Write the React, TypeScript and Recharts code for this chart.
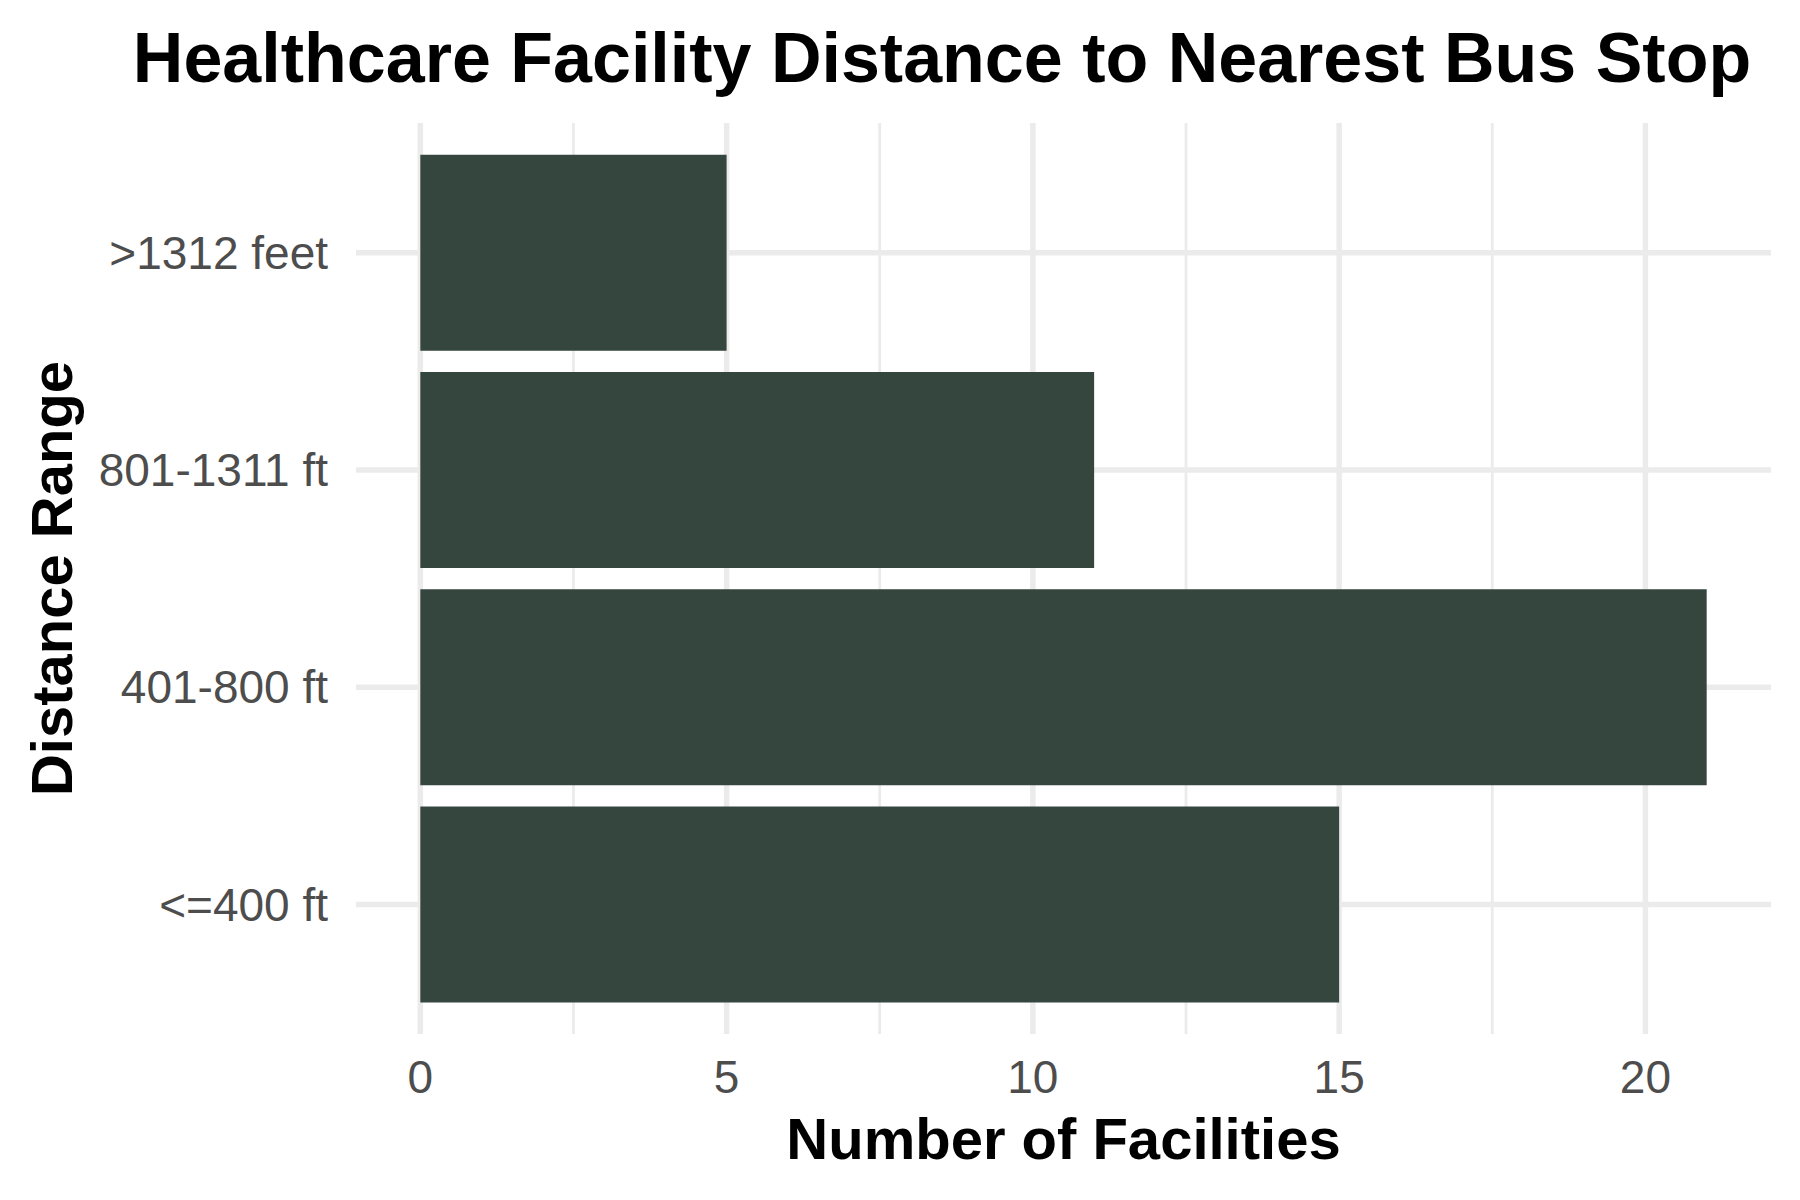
import { BarChart, Bar, XAxis, YAxis, CartesianGrid, Label } from 'recharts'

const ranges = ['>1312 feet', '801-1311 ft', '401-800 ft', '<=400 ft']
const facilityCounts = [5, 11, 21, 15]
const majorTicks = [0, 5, 10, 15, 20]
const minorTicks = [2.5, 7.5, 12.5, 17.5]

const data = ranges.map((range, i) => ({ range, count: facilityCounts[i] }))

const FONT = '"Liberation Sans", Arial, Helvetica, sans-serif'

function XTitle({ viewBox }: any) {
  return (
    <text
      x={viewBox.x + viewBox.width / 2}
      y={viewBox.y + 125}
      textAnchor="middle"
      fontFamily={FONT}
      fontWeight="bold"
      fontSize={58}
      fill="#000"
    >
      Number of Facilities
    </text>
  )
}

function YTitle({ viewBox }: any) {
  const x = viewBox.x + 52
  const y = viewBox.y + viewBox.height / 2
  return (
    <text
      x={x}
      y={y}
      transform={`rotate(-90 ${x} ${y})`}
      textAnchor="middle"
      fontFamily={FONT}
      fontWeight="bold"
      fontSize={58}
      fill="#000"
    >
      Distance Range
    </text>
  )
}

export default function App() {
  return (
    <div style={{ position: 'absolute', left: 0, top: 0, width: 1800, height: 1200, background: '#fff' }}>
      <div
        style={{
          position: 'absolute',
          top: 0,
          left: 942,
          transform: 'translateX(-50%)',
          whiteSpace: 'nowrap',
          fontFamily: FONT,
          fontWeight: 'bold',
          fontSize: 70,
          lineHeight: '80px',
          marginTop: 18,
          color: '#000',
        }}
      >
        Healthcare Facility Distance to Nearest Bus Stop
      </div>
      <BarChart
        width={1800}
        height={1200}
        data={data}
        layout="vertical"
        margin={{ top: 123, right: 29, bottom: 20, left: 20 }}
        barCategoryGap="5%"
      >
        <CartesianGrid
          stroke="#ebebeb"
          strokeWidth={2.8}
          horizontal={false}
          verticalValues={minorTicks}
        />
        <CartesianGrid
          stroke="#ebebeb"
          strokeWidth={5.5}
          verticalValues={majorTicks}
          horizontalValues={ranges}
        />
        <XAxis
          type="number"
          domain={[-1.05, 22.05]}
          ticks={majorTicks}
          allowDataOverflow
          axisLine={false}
          tickLine={false}
          tickSize={0}
          tickMargin={26}
          height={146}
          tick={{ fill: '#4d4d4d', fontSize: 46, fontFamily: FONT }}
        >
          <Label content={<XTitle />} />
        </XAxis>
        <YAxis
          type="category"
          dataKey="range"
          width={336}
          padding={{ top: 21, bottom: 21 }}
          axisLine={false}
          tickLine={false}
          tickSize={0}
          tickMargin={28}
          tick={{ fill: '#4d4d4d', fontSize: 46, fontFamily: FONT }}
        >
          <Label content={<YTitle />} />
        </YAxis>
        <Bar dataKey="count" fill="#35463e" isAnimationActive={false} />
      </BarChart>
    </div>
  )
}
